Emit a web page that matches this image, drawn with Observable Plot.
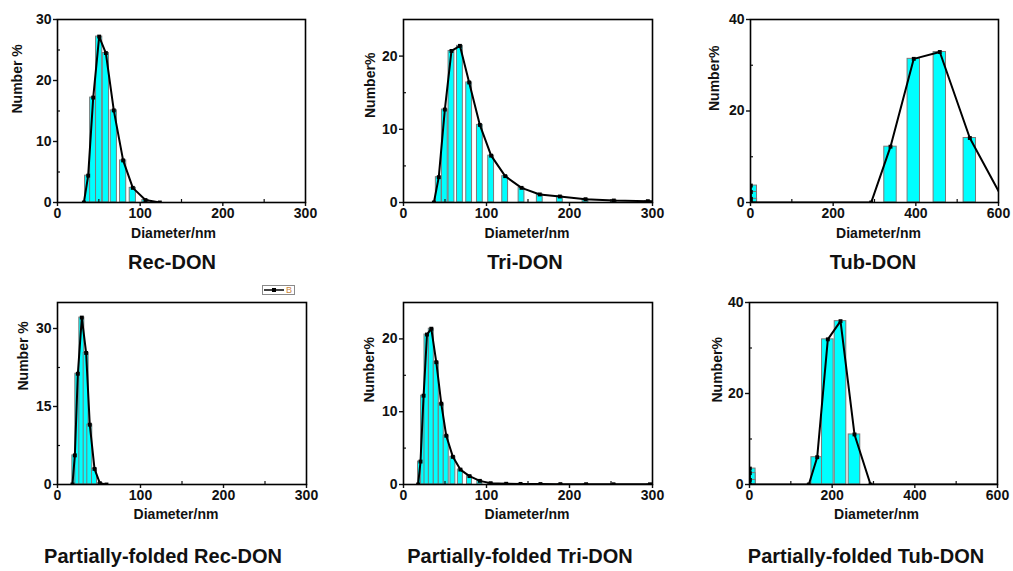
<!DOCTYPE html>
<html><head><meta charset="utf-8">
<script src="https://cdn.jsdelivr.net/npm/d3@7"></script>
<script src="https://cdn.jsdelivr.net/npm/@observablehq/plot@0.6"></script>
<style>
body{margin:0;background:#fff;font-family:"Liberation Sans",Arial,sans-serif;}
#wrap{position:relative;width:1013px;height:571px;overflow:hidden;background:#fff;}
.panel{position:absolute;}
.title{position:absolute;font-weight:bold;font-size:20px;transform:translate(-50%,-50%);white-space:nowrap;color:#111;}
.legend{position:absolute;border:1px solid #8a8a8a;background:#fff;height:10px;width:33px;box-sizing:border-box;display:flex;align-items:center;}
.legend span{font-size:9px;color:#c8843a;line-height:9px;margin-left:1px;}
</style></head><body><div id="wrap"></div>
<script>
// ---- data (diameter in nm, number %) ----
const recDiam = [31.9, 37.1, 43.2, 50.4, 58.5, 68.1, 79.4, 91.1, 106.4, 123.8];
const recNum  = [0, 4.4, 17.2, 27.2, 24.5, 15.1, 6.9, 2.4, 0.4, 0];

const triDiam = [36.6, 42.5, 49.8, 57.8, 68.0, 79.1, 92.0, 105.6, 122.5, 142.2, 164.2, 188.4, 219.3, 253.4, 294.4, 342];
const triNum  = [0, 3.46, 12.7, 20.7, 21.4, 16.4, 10.6, 6.4, 3.6, 2.0, 1.1, 0.82, 0.45, 0.27, 0.18, 0.1];

const tubDiam = [0.7, 0.8, 0.95, 1.1, 292, 338.7, 395, 458, 530.6, 615];
const tubNum  = [3.7, 2.3, 0.8, 0, 0, 12.2, 31.4, 32.9, 14.1, 0];

const pfRecDiam = [18.0, 20.9, 24.5, 29.3, 34.5, 38.9, 44.6, 51.0, 59];
const pfRecNum  = [0, 5.6, 21.3, 32.1, 25.3, 11.5, 3.0, 0.25, 0];

const pfTriDiam = [17.6, 20.5, 24.2, 28.3, 33.5, 39.5, 45.5, 51.5, 59.5, 68.5, 79.5, 92, 105, 123.7, 141, 165, 189, 220, 253, 297];
const pfTriNum  = [0, 3.15, 12.2, 20.6, 21.4, 16.8, 11.1, 6.7, 3.8, 2.05, 1.15, 0.5, 0.18, 0.1, 0.08, 0.06, 0.05, 0.04, 0.03, 0.03];

const pfTubDiam = [0.7, 0.8, 0.95, 1.1, 143.5, 163.8, 189.5, 220.2, 254, 292.8, 615];
const pfTubNum  = [3.5, 2.5, 1.0, 0, 0, 6.0, 31.9, 35.9, 11.0, 0, 0];

const titles = ["Rec-DON", "Tri-DON", "Tub-DON", "Partially-folded Rec-DON", "Partially-folded Tri-DON", "Partially-folded Tub-DON"];
const xLabel = "Diameter/nm";
const yLabels = ["Number %", "Number%", "Number%", "Number %", "Number%", "Number%"];
const ticks300 = [0, 100, 200, 300], minor300 = [50, 150, 250];
const ticks600 = [0, 200, 400, 600], minor600 = [100, 300, 500];

// ---- layout ----
const FONT = '"Liberation Sans", Arial, sans-serif';
const panels = [
  {diam: recDiam, num: recNum, bw: 7.5, xd: [0, 300], xt: ticks300, xm: minor300, yd: [0, 30], yt: [0, 10, 20, 30], ym: [5, 15, 25],
   frame: [57, 19, 305, 202], yl: [-39.5, 2.5], xl: [-8, 35], title: [172, 262]},
  {diam: triDiam, num: triNum, bw: 7, xd: [0, 300], xt: ticks300, xm: minor300, yd: [0, 25], yt: [0, 10, 20], ym: [5, 15],
   frame: [403, 19, 652, 202], yl: [-33, 7], xl: [-1, 35], title: [525, 262]},
  {diam: tubDiam, num: tubNum, bw: 30, xd: [0, 600], xt: ticks600, xm: minor600, yd: [0, 40], yt: [0, 20, 40], ym: [10, 30],
   frame: [750, 19, 998, 202], yl: [-36, 0], xl: [4, 35], title: [873, 262]},
  {diam: pfRecDiam, num: pfRecNum, bw: 6, xd: [0, 300], xt: ticks300, xm: minor300, yd: [0, 35], yt: [0, 15, 30], ym: [7.5, 22.5],
   frame: [57, 302, 306, 484], yl: [-34, -3], xl: [-6, 34], title: [163, 556]},
  {diam: pfTriDiam, num: pfTriNum, bw: 6, xd: [0, 300], xt: ticks300, xm: minor300, yd: [0, 25], yt: [0, 10, 20], ym: [5, 15],
   frame: [403, 302, 652, 484], yl: [-34, 9], xl: [-1, 34], title: [520, 556]},
  {diam: pfTubDiam, num: pfTubNum, bw: 28, xd: [0, 600], xt: ticks600, xm: minor600, yd: [0, 40], yt: [0, 20, 40], ym: [10, 30],
   frame: [749, 302, 997, 484], yl: [-32, 9], xl: [3, 34], title: [866, 556]}
];

const wrap = document.getElementById("wrap");
const mL = 57, mT = 19, mR = 16, mB = 45;

panels.forEach((c, k) => {
  const [fl, ft, fr, fb] = c.frame;
  const W = fr - fl + mL + mR, H = fb - ft + mT + mB;
  const rows = c.diam.map((d, i) => ({d, v: c.num[i]}));
  const bars = rows.filter(r => r.v > 0);
  const svg = Plot.plot({
    width: W, height: H,
    marginLeft: mL, marginTop: mT, marginRight: mR, marginBottom: mB,
    style: {fontFamily: FONT, fontWeight: "bold", fontSize: "14px", color: "#111", background: "transparent", overflow: "visible"},
    x: {domain: c.xd},
    y: {domain: c.yd},
    marks: [
      Plot.rect(bars, {x1: r => r.d - c.bw / 2, x2: r => r.d + c.bw / 2, y1: 0, y2: "v", fill: "#00ffff", stroke: "#7a7a7a", strokeWidth: 1, clip: true}),
      Plot.line(rows, {x: "d", y: "v", stroke: "#000", strokeWidth: 2, clip: true}),
      Plot.dot(rows, {x: "d", y: "v", symbol: "square", r: 2.2, fill: "#000", clip: true}),
      Plot.axisX({ticks: c.xt, tickSize: 4, tickPadding: 2, label: null, fontSize: 14, fontWeight: "bold", strokeWidth: 1.4}),
      Plot.axisX({ticks: c.xm, tickSize: -3, tickFormat: () => "", label: null, strokeWidth: 1.2}),
      Plot.axisY({ticks: c.yt, tickSize: 4, tickPadding: 2, label: null, fontSize: 14, fontWeight: "bold", strokeWidth: 1.4}),
      Plot.axisY({ticks: c.ym, tickSize: -3, tickFormat: () => "", label: null, strokeWidth: 1.2}),
      Plot.frame({stroke: "#000", strokeWidth: 1.6}),
      Plot.text([xLabel], {frameAnchor: "bottom", dx: c.xl[0], dy: c.xl[1], fontSize: 14, fontWeight: "bold", fill: "#111"}),
      Plot.text([yLabels[k]], {frameAnchor: "left", rotate: -90, dx: c.yl[0], dy: c.yl[1], fontSize: 14, fontWeight: "bold", fill: "#111"})
    ]
  });
  svg.classList.add("panel");
  svg.style.left = (fl - mL) + "px";
  svg.style.top = (ft - mT) + "px";
  wrap.appendChild(svg);

  const t = document.createElement("div");
  t.className = "title";
  t.textContent = titles[k];
  t.style.left = c.title[0] + "px";
  t.style.top = c.title[1] + "px";
  wrap.appendChild(t);
});

// legend "B" in the partially-folded Rec-DON panel
const lg = document.createElement("div");
lg.className = "legend";
lg.style.left = "262px";
lg.style.top = "285px";
lg.innerHTML = '<svg width="22" height="8" style="display:block"><line x1="1" y1="4" x2="21" y2="4" stroke="#000" stroke-width="1.5"/><rect x="9" y="2" width="4" height="4" fill="#000"/></svg><span>B</span>';
wrap.appendChild(lg);
</script>
</body></html>
